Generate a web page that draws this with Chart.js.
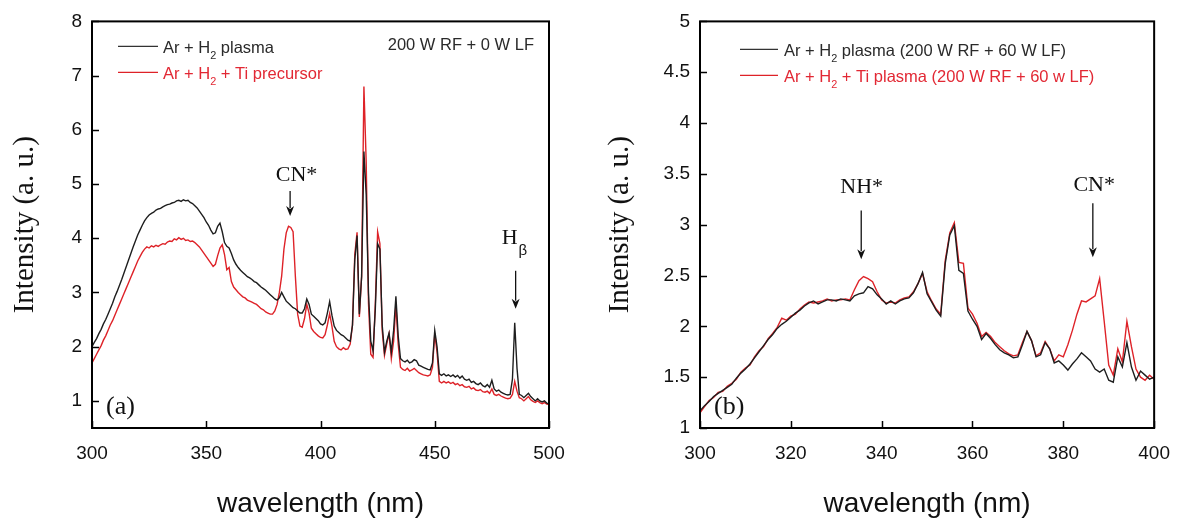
<!DOCTYPE html>
<html>
<head>
<meta charset="utf-8">
<script src="https://cdn.jsdelivr.net/npm/chart.js@4.4.1/dist/chart.umd.min.js"></script>
<style>
  body { margin: 0; background: #fff; }
  #wrap { position: relative; width: 1184px; height: 523px; }
  .box { position: absolute; top: 0; width: 592px; height: 523px; }
</style>
</head>
<body>
<div id="wrap">
  <div class="box" style="left:0"><canvas id="chartA" width="592" height="523"></canvas></div>
  <div class="box" style="left:592px"><canvas id="chartB" width="592" height="523"></canvas></div>
</div>
<script>
// ---- panel (a): 200 W RF + 0 W LF, 300-500 nm ----
const wavelengthA = [
  300,301,302,303,304,305,306,307,308,309, 310,311,312,313,314,315,316,317,318,319,
  320,321,322,323,324,325,326,327,328,329, 330,331,332,333,334,335,336,337,338,339,
  340,341,342,343,344,345,346,347,348,349, 350,351,352,353,354,355,356,357,358,359,
  360,361,362,363,364,365,366,367,368,369, 370,371,372,373,374,375,376,377,378,379,
  380,381,382,383,384,385,386,387,388,389, 390,391,392,393,394,395,396,397,398,399,
  400,401,402,403,404,405,406,407,408,409, 410,411,412,413,414,415,416,417,418,419,
  420,421,422,423,424,425,426,427,428,429, 430,431,432,433,434,435,436,437,438,439,
  440,441,442,443,444,445,446,447,448,449, 450,451,452,453,454,455,456,457,458,459,
  460,461,462,463,464,465,466,467,468,469, 470,471,472,473,474,475,476,477,478,479,
  480,481,482,483,484,485,486,487,488,489, 490,491,492,493,494,495,496,497,498,499,
  500
];
const plasmaA = [
  2.00,2.08,2.15,2.24,2.32,2.42,2.50,2.60,2.70,2.80, 2.92,3.02,3.13,3.24,3.36,3.48,3.60,3.72,3.84,3.95,
  4.06,4.15,4.24,4.32,4.38,4.43,4.46,4.48,4.52,4.54, 4.55,4.58,4.60,4.62,4.63,4.65,4.66,4.69,4.70,4.68,
  4.71,4.69,4.70,4.66,4.64,4.60,4.56,4.50,4.44,4.38, 4.30,4.24,4.15,4.08,4.10,4.22,4.28,4.12,3.92,3.85,
  3.82,3.72,3.60,3.52,3.46,3.41,3.37,3.33,3.29,3.27, 3.24,3.20,3.18,3.14,3.10,3.07,3.04,3.00,2.96,2.92,
  2.88,2.86,2.90,3.00,2.92,2.84,2.80,2.76,2.72,2.70, 2.66,2.62,2.62,2.70,2.88,2.78,2.60,2.56,2.52,2.48,
  2.42,2.40,2.44,2.62,2.83,2.58,2.38,2.30,2.26,2.22, 2.20,2.16,2.12,2.10,2.40,3.60,4.05,2.60,3.30,5.60,
  4.80,3.00,2.10,1.92,2.70,3.90,3.80,2.40,1.90,2.10, 2.25,1.90,2.30,2.93,2.20,1.78,1.74,1.72,1.75,1.70,
  1.72,1.76,1.74,1.66,1.64,1.62,1.60,1.58,1.57,1.70, 2.30,2.00,1.50,1.47,1.50,1.46,1.48,1.45,1.48,1.44,
  1.47,1.42,1.46,1.40,1.38,1.40,1.34,1.36,1.32,1.30, 1.33,1.28,1.26,1.30,1.25,1.38,1.22,1.18,1.20,1.16,
  1.14,1.12,1.11,1.12,1.40,2.44,1.60,1.12,1.10,1.06, 1.10,1.14,1.08,1.04,1.00,1.04,1.00,0.98,1.00,0.96,
  0.95
];
const precursorA = [
  1.70,1.78,1.86,1.94,2.02,2.12,2.20,2.30,2.40,2.48, 2.58,2.68,2.78,2.88,2.98,3.08,3.18,3.28,3.38,3.48,
  3.58,3.66,3.74,3.80,3.84,3.82,3.86,3.84,3.87,3.85, 3.88,3.90,3.89,3.93,3.95,3.94,3.99,3.97,4.01,3.98,
  4.00,3.96,3.97,3.94,3.95,3.92,3.88,3.84,3.78,3.72, 3.66,3.60,3.54,3.48,3.52,3.68,3.82,3.88,3.70,3.42,
  3.46,3.20,3.10,3.05,3.00,2.96,2.92,2.90,2.86,2.84, 2.82,2.80,2.78,2.74,2.70,2.68,2.64,2.62,2.60,2.60,
  2.66,2.78,3.00,3.30,3.80,4.10,4.22,4.20,4.12,3.30, 2.60,2.38,2.36,2.52,2.78,2.62,2.34,2.28,2.24,2.20,
  2.17,2.16,2.22,2.40,2.61,2.38,2.10,2.00,1.96,1.94, 1.98,1.95,1.96,2.05,2.40,3.70,4.11,2.55,3.30,6.80,
  5.40,2.80,1.86,1.80,2.80,4.12,3.90,2.30,1.84,2.05, 2.24,1.78,2.10,2.78,2.05,1.62,1.58,1.56,1.60,1.55,
  1.57,1.60,1.56,1.52,1.50,1.48,1.47,1.46,1.48,1.62, 2.24,1.90,1.36,1.33,1.36,1.33,1.35,1.32,1.34,1.30,
  1.32,1.28,1.30,1.26,1.25,1.27,1.22,1.24,1.20,1.19, 1.21,1.17,1.16,1.18,1.14,1.22,1.12,1.10,1.12,1.09,
  1.07,1.05,1.04,1.05,1.12,1.36,1.18,1.06,1.04,1.00, 1.04,1.08,1.02,0.99,0.97,1.00,0.97,0.95,0.97,0.94,
  0.93
];
const xTicksA = [300, 350, 400, 450, 500];
const yTicksA = [1, 2, 3, 4, 5, 6, 7, 8];

// ---- panel (b): 200 W RF + 60 W LF, 300-400 nm ----
const wavelengthB = [
  300,301,302,303,304,305,306,307,308,309, 310,311,312,313,314,315,316,317,318,319,
  320,321,322,323,324,325,326,327,328,329, 330,331,332,333,334,335,336,337,338,339,
  340,341,342,343,344,345,346,347,348,349, 350,351,352,353,354,355,356,357,358,359,
  360,361,362,363,364,365,366,367,368,369, 370,371,372,373,374,375,376,377,378,379,
  380,381,382,383,384,385,386,387,388,389, 390,391,392,393,394,395,396,397,398,399,
  400
];
const plasmaB = [
  1.17,1.22,1.26,1.31,1.34,1.37,1.40,1.43,1.49,1.54, 1.58,1.63,1.69,1.75,1.81,1.87,1.92,1.98,2.02,2.05,
  2.09,2.13,2.16,2.20,2.23,2.25,2.22,2.24,2.26,2.26, 2.25,2.27,2.26,2.25,2.30,2.32,2.33,2.39,2.37,2.31,
  2.27,2.22,2.25,2.22,2.25,2.27,2.28,2.33,2.42,2.53, 2.32,2.24,2.16,2.10,2.62,2.90,2.99,2.55,2.52,2.15,
  2.07,2.00,1.87,1.93,1.88,1.82,1.77,1.74,1.72,1.69, 1.70,1.82,1.95,1.86,1.70,1.72,1.84,1.78,1.64,1.66,
  1.62,1.57,1.63,1.68,1.74,1.70,1.66,1.58,1.55,1.58, 1.47,1.45,1.70,1.60,1.84,1.60,1.47,1.56,1.52,1.48,
  1.50
];
const titaniumB = [
  1.15,1.21,1.27,1.30,1.35,1.36,1.41,1.44,1.48,1.55, 1.59,1.62,1.70,1.76,1.80,1.88,1.93,1.99,2.08,2.06,
  2.10,2.12,2.17,2.21,2.24,2.23,2.24,2.25,2.27,2.25, 2.26,2.26,2.27,2.26,2.36,2.45,2.49,2.47,2.44,2.34,
  2.26,2.23,2.24,2.23,2.26,2.28,2.29,2.34,2.42,2.52, 2.34,2.25,2.17,2.12,2.65,2.92,3.02,2.63,2.62,2.18,
  2.12,2.03,1.90,1.94,1.90,1.84,1.80,1.76,1.73,1.71, 1.72,1.84,1.95,1.86,1.71,1.74,1.85,1.78,1.66,1.72,
  1.70,1.82,1.96,2.12,2.25,2.24,2.27,2.30,2.47,2.05, 1.62,1.52,1.78,1.65,2.05,1.80,1.58,1.50,1.47,1.52,
  1.48
];
const xTicksB = [300, 320, 340, 360, 380, 400];
const yTicksB = [1, 1.5, 2, 2.5, 3, 3.5, 4, 4.5, 5];

const BLACK = '#1e1e1e';
const RED = 'rgb(222, 34, 40)';
const SANS = '"Liberation Sans", Arial, sans-serif';
const SERIF = '"Liberation Serif", "Times New Roman", serif';

function points(xs, ys) {
  return xs.map((x, i) => ({ x: x, y: ys[i] }));
}

// text with an optional subscript part: [[text, isSub], ...]
function drawRich(ctx, parts, x, y, size, color) {
  ctx.fillStyle = color;
  ctx.textAlign = 'left';
  ctx.textBaseline = 'alphabetic';
  parts.forEach(p => {
    const s = p[1] ? size * 0.66 : size;
    ctx.font = s + 'px ' + SANS;
    ctx.fillText(p[0], x, y + (p[1] ? size * 0.38 : 0));
    x += ctx.measureText(p[0]).width;
  });
}

function arrowDown(ctx, x, y1, y2) {
  ctx.save();
  ctx.strokeStyle = '#111';
  ctx.fillStyle = '#111';
  ctx.lineWidth = 1.3;
  ctx.beginPath();
  ctx.moveTo(x, y1);
  ctx.lineTo(x, y2 - 8);
  ctx.stroke();
  ctx.beginPath();
  ctx.moveTo(x - 4, y2 - 10);
  ctx.lineTo(x, y2);
  ctx.lineTo(x + 4, y2 - 10);
  ctx.lineTo(x, y2 - 7);
  ctx.closePath();
  ctx.fill();
  ctx.restore();
}

// frame, inward ticks, legend and peak labels
const decor = {
  id: 'decor',
  afterDraw(chart, args, opts) {
    const ctx = chart.ctx;
    const a = chart.chartArea;
    const xs = chart.scales.x, ys = chart.scales.y;
    ctx.save();
    ctx.strokeStyle = '#000';
    ctx.lineWidth = 1.5;
    xs.ticks.forEach(t => {
      const px = Math.round(xs.getPixelForValue(t.value)) + 0.5;
      ctx.beginPath(); ctx.moveTo(px, a.bottom); ctx.lineTo(px, a.bottom - 7); ctx.stroke();
    });
    ys.ticks.forEach(t => {
      const py = Math.round(ys.getPixelForValue(t.value)) + 0.5;
      ctx.beginPath(); ctx.moveTo(a.left, py); ctx.lineTo(a.left + 7, py); ctx.stroke();
    });
    ctx.lineWidth = 2;
    ctx.strokeRect(a.left, a.top, a.right - a.left, a.bottom - a.top);

    // legend
    const lg = opts.legend;
    lg.items.forEach((it, i) => {
      const ly = a.top + lg.lineY + i * lg.gap;
      ctx.strokeStyle = it.color;
      ctx.lineWidth = 1.3;
      ctx.beginPath();
      ctx.moveTo(a.left + lg.x0, ly);
      ctx.lineTo(a.left + lg.x1, ly);
      ctx.stroke();
      drawRich(ctx, it.parts, a.left + lg.textX, ly + lg.size * 0.37, lg.size, it.textColor);
    });
    if (opts.corner) {
      ctx.font = lg.size + 'px ' + SANS;
      ctx.fillStyle = '#2a2a2a';
      ctx.textAlign = 'right';
      ctx.textBaseline = 'alphabetic';
      ctx.fillText(opts.corner, a.right - 15, a.top + 29);
    }

    // panel letter
    ctx.font = '26px ' + SERIF;
    ctx.fillStyle = '#111';
    ctx.textAlign = 'left';
    ctx.textBaseline = 'alphabetic';
    ctx.fillText(opts.panel, a.left + 14, a.bottom - 14);

    // peak markers, positioned through the scales
    opts.notes.forEach(n => {
      const px = xs.getPixelForValue(n.at);
      arrowDown(ctx, px, ys.getPixelForValue(n.from), ys.getPixelForValue(n.to));
      const tx = xs.getPixelForValue(n.textAt);
      const ty = ys.getPixelForValue(n.textY);
      ctx.font = '22px ' + SERIF;
      ctx.fillStyle = '#111';
      ctx.textBaseline = 'alphabetic';
      if (n.sub) {
        ctx.textAlign = 'left';
        ctx.fillText(n.label, tx, ty);
        const w = ctx.measureText(n.label).width;
        ctx.font = '15px ' + SANS;
        ctx.fillText(n.sub, tx + w + 1, ty + 11);
      } else {
        ctx.textAlign = 'center';
        ctx.fillText(n.label, tx, ty);
      }
    });
    ctx.restore();
  }
};

function makeChart(id, cfg) {
  return new Chart(document.getElementById(id), {
    type: 'line',
    data: {
      datasets: [
        { data: points(cfg.xs, cfg.black), borderColor: BLACK, borderWidth: 1.4, pointRadius: 0, tension: 0 },
        { data: points(cfg.xs, cfg.red), borderColor: RED, borderWidth: 1.4, pointRadius: 0, tension: 0 }
      ]
    },
    options: {
      responsive: false,
      animation: false,
      devicePixelRatio: 1,
      layout: { padding: { left: 0, top: 16, right: cfg.padRight, bottom: 0 } },
      scales: {
        x: {
          type: 'linear',
          min: cfg.xTicks[0],
          max: cfg.xTicks[cfg.xTicks.length - 1],
          afterBuildTicks: s => { s.ticks = cfg.xTicks.map(v => ({ value: v })); },
          afterFit: s => { s.height = 95; },
          grid: { display: true, drawOnChartArea: false, drawTicks: false },
          border: { display: false },
          ticks: { padding: 14, color: '#111', font: { family: SANS, size: 19 }, maxRotation: 0 },
          title: {
            display: true, text: 'wavelength (nm)', color: '#111',
            font: { family: SANS, size: 28 }, padding: { top: 0, bottom: 2 }
          }
        },
        y: {
          min: cfg.yMin,
          max: cfg.yTicks[cfg.yTicks.length - 1],
          afterBuildTicks: s => { s.ticks = cfg.yTicks.map(v => ({ value: v })); },
          afterFit: s => { s.width = cfg.yWidth; },
          grid: { display: true, drawOnChartArea: false, drawTicks: false },
          border: { display: false },
          ticks: { padding: 10, color: '#111', font: { family: SANS, size: 19 }, callback: v => String(v) },
          title: {
            display: true, text: 'Intensity (a. u.)', color: '#111',
            font: { family: SERIF, size: 29 }, padding: { top: cfg.titlePad, bottom: 0 }
          }
        }
      },
      plugins: {
        legend: { display: false },
        tooltip: { enabled: false },
        decor: cfg.decor
      }
    },
    plugins: [decor]
  });
}

makeChart('chartA', {
  xs: wavelengthA, black: plasmaA, red: precursorA,
  xTicks: xTicksA, yTicks: yTicksA, yMin: 0.5,
  padRight: 43, yWidth: 92, titlePad: 8,
  decor: {
    panel: '(a)',
    corner: '200 W RF + 0 W LF',
    legend: {
      size: 16.5, x0: 26, x1: 66, textX: 71, lineY: 25, gap: 26,
      items: [
        { color: '#333', textColor: '#2a2a2a', parts: [['Ar + H', false], ['2', true], [' plasma', false]] },
        { color: RED, textColor: 'rgb(226, 40, 52)', parts: [['Ar + H', false], ['2', true], [' + Ti precursor', false]] }
      ]
    },
    notes: [
      { label: 'CN*', at: 386.7, from: 4.87, to: 4.41, textAt: 389.5, textY: 5.05 },
      { label: 'H', sub: '\u03B2', at: 485.4, from: 3.40, to: 2.70, textAt: 479.3, textY: 3.90 }
    ]
  }
});

makeChart('chartB', {
  xs: wavelengthB, black: plasmaB, red: titaniumB,
  xTicks: xTicksB, yTicks: yTicksB, yMin: 1,
  padRight: 29, yWidth: 108, titlePad: 11,
  decor: {
    panel: '(b)',
    corner: '',
    legend: {
      size: 16.5, x0: 40, x1: 78, textX: 84, lineY: 28, gap: 26,
      items: [
        { color: '#333', textColor: '#2a2a2a', parts: [['Ar + H', false], ['2', true], [' plasma (200 W RF + 60 W LF)', false]] },
        { color: RED, textColor: 'rgb(226, 40, 52)', parts: [['Ar + H', false], ['2', true], [' + Ti plasma (200 W RF + 60 w LF)', false]] }
      ]
    },
    notes: [
      { label: 'NH*', at: 335.5, from: 3.14, to: 2.66, textAt: 335.6, textY: 3.31 },
      { label: 'CN*', at: 386.5, from: 3.21, to: 2.68, textAt: 386.8, textY: 3.33 }
    ]
  }
});
</script>
</body>
</html>
